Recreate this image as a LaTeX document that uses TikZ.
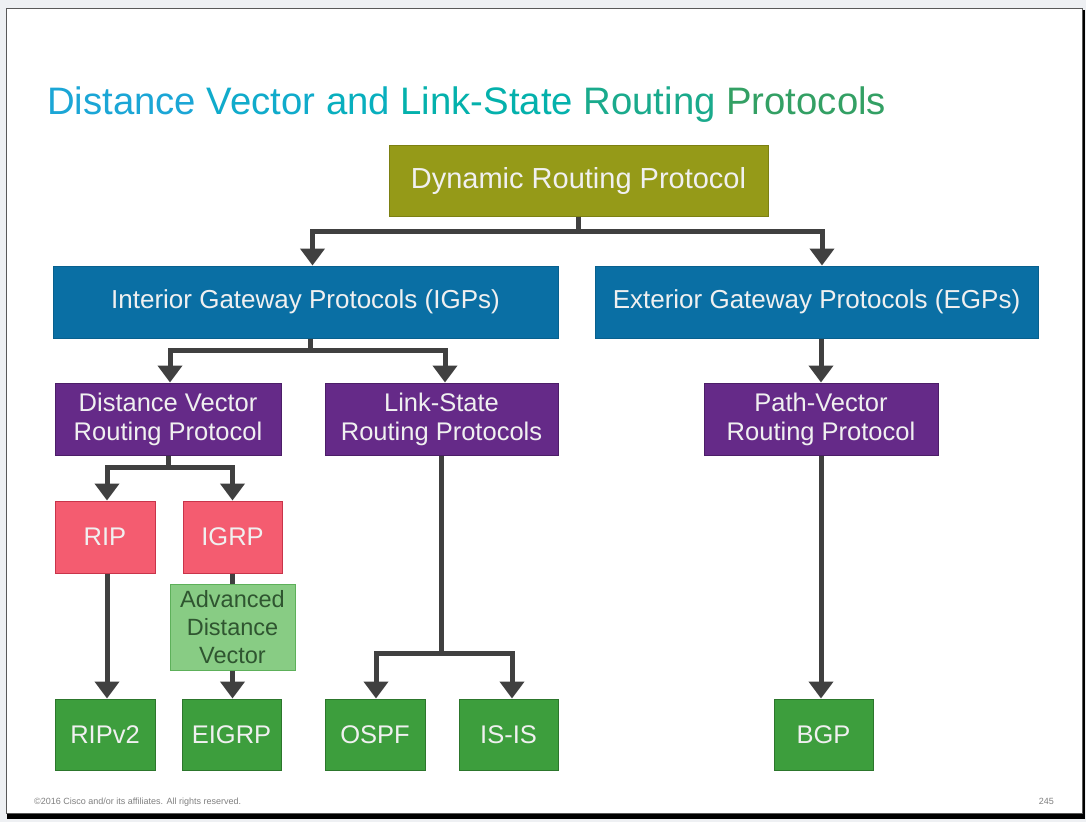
\documentclass[tikz,border=0pt]{standalone}
\usepackage{fontspec}
\setmainfont{Liberation Sans}
\usetikzlibrary{arrows.meta,positioning}

\definecolor{pagegray}{HTML}{EEF0F3}
\definecolor{linkgray}{HTML}{404040}
\definecolor{olivefill}{HTML}{959A18}
\definecolor{olivedraw}{HTML}{7C8012}
\definecolor{bluefill}{HTML}{0A6FA4}
\definecolor{bluedraw}{HTML}{08608E}
\definecolor{purplefill}{HTML}{652A88}
\definecolor{purpledraw}{HTML}{4C1E68}
\definecolor{redfill}{HTML}{F45C70}
\definecolor{reddraw}{HTML}{C8344A}
\definecolor{greenfill}{HTML}{3D9E3D}
\definecolor{greendraw}{HTML}{2C762C}
\definecolor{lightfill}{HTML}{88CC84}
\definecolor{lightdraw}{HTML}{5DB05A}
\definecolor{lighttext}{HTML}{2F5530}

\begin{document}
\begin{tikzpicture}[
      x=1pt, y=-1pt, % one unit per pixel, y going down
      proto box/.style={draw, line width=1pt, text=white!94!black, align=center, inner sep=0pt},
      top box/.style={proto box, fill=olivefill, draw=olivedraw, minimum height=71pt,
                      font=\fontsize{29}{33}\selectfont},
      gateway box/.style={proto box, fill=bluefill, draw=bluedraw, minimum height=72pt,
                      font=\fontsize{26}{30}\selectfont},
      family box/.style={proto box, fill=purplefill, draw=purpledraw, minimum height=72pt,
                      font=\fontsize{25.5}{29}\selectfont},
      old box/.style={proto box, fill=redfill, draw=reddraw, minimum width=100pt,
                      minimum height=72pt, font=\fontsize{25.5}{29}\selectfont},
      leaf box/.style={proto box, fill=greenfill, draw=greendraw, minimum width=100pt,
                      minimum height=71pt, font=\fontsize{25.5}{29}\selectfont},
      note box/.style={proto box, fill=lightfill, draw=lightdraw, text=lighttext,
                      minimum width=125pt, minimum height=86pt,
                      font=\fontsize{23.5}{28}\selectfont},
      link/.style={draw=linkgray, line width=5pt},
      link arrow/.style={link, -{Triangle[width=24pt,length=17pt]}}
    ]

    % Page and slide frame
    \fill[pagegray] (0,0) rectangle (1086,822);
    \fill[black] (7,10) rectangle (1085,819);
    \filldraw[fill=white, draw=gray!70!black, line width=0.8pt] (6,8) rectangle (1082,813);
    \useasboundingbox (0,0) rectangle (1086,822);

    % Title
    \node[anchor=base west, inner sep=0pt, font=\fontsize{38.3}{42}\selectfont] (title) at (47,114)
      {\textcolor[HTML]{1BA6D6}{Distance} \textcolor[HTML]{10ABCB}{Vector}
       \textcolor[HTML]{08AFBE}{and} \textcolor[HTML]{04B1AC}{Link-State}
       \textcolor[HTML]{1AAA8C}{Routing} \textcolor[HTML]{33A064}{Protocols}};

    % Top of the tree
    \node[top box, minimum width=379pt] (dyn) at (578.5,180.5) {Dynamic Routing Protocol};

    % Gateway protocols
    \node[gateway box, minimum width=505pt] (igp) at (305.5,302) {Interior Gateway Protocols (IGPs)};
    \node[gateway box, minimum width=443pt] (egp) at (816.5,302) {Exterior Gateway Protocols (EGPs)};

    % Protocol families
    \node[family box, minimum width=226pt] (dv) at (168,419) {Distance Vector\\Routing Protocol};
    \node[family box, minimum width=233pt] (ls) at (441.5,419) {Link-State\\Routing Protocols};
    \node[family box, minimum width=234pt] (pv) at (821,419) {Path-Vector\\Routing Protocol};

    % Classful protocols
    \node[old box] (rip) at (105,537) {RIP};
    \node[old box, minimum width=99pt] (igrp) at (232.5,537) {IGRP};
    \node[note box] (adv) at (232.5,627) {Advanced\\Distance\\Vector};

    % Current protocols
    \node[leaf box] (ripv2) at (105,734.5) {RIPv2};
    \node[leaf box, minimum width=99pt] (eigrp) at (231.5,734.5) {EIGRP};
    \node[leaf box] (ospf) at (375,734.5) {OSPF};
    \node[leaf box, minimum width=99pt] (isis) at (508.5,734.5) {IS-IS};
    \node[leaf box, minimum width=99pt] (bgp) at (823.5,734.5) {BGP};

    % Connectors
    \draw[link arrow] (dyn.south) -- ++(0,15) -| ([xshift=7pt]igp.north);
    \draw[link arrow] (dyn.south) -- ++(0,15) -| ([xshift=5.5pt]egp.north);
    \draw[link arrow] ([xshift=4.5pt]igp.south) -- ++(0,12) -| ([xshift=2pt]dv.north);
    \draw[link arrow] ([xshift=4.5pt]igp.south) -- ++(0,12) -| ([xshift=3.5pt]ls.north);
    \draw[link arrow] (pv.north |- egp.south) -- (pv.north);
    \draw[link arrow] (dv.south) -- ++(0,12) -| ([xshift=2pt]rip.north);
    \draw[link arrow] (dv.south) -- ++(0,12) -| (igrp.north);
    \draw[link arrow] ([xshift=2pt]rip.south) -- ([xshift=2pt]ripv2.north);
    \draw[link] (igrp.south) -- (adv.north);
    \draw[link arrow] (adv.south) -- (adv.south |- eigrp.north);
    \draw[link arrow] (ls.south) -- ++(0,198) -| ([xshift=1pt]ospf.north);
    \draw[link arrow] (ls.south) -- ++(0,198) -| ([xshift=3.5pt]isis.north);
    \draw[link arrow] (pv.south) -- (pv.south |- bgp.north);

    % Footer
    \node[anchor=base west, inner sep=0pt, text=gray, font=\fontsize{9}{11}\selectfont] (copy) at (34,804)
      {\textcopyright 2016 Cisco and/or its affiliates. All rights reserved.};
    \node[anchor=base east, inner sep=0pt, text=gray, font=\fontsize{9}{11}\selectfont] (page) at (1054,804) {245};

  \end{tikzpicture}
\end{document}
